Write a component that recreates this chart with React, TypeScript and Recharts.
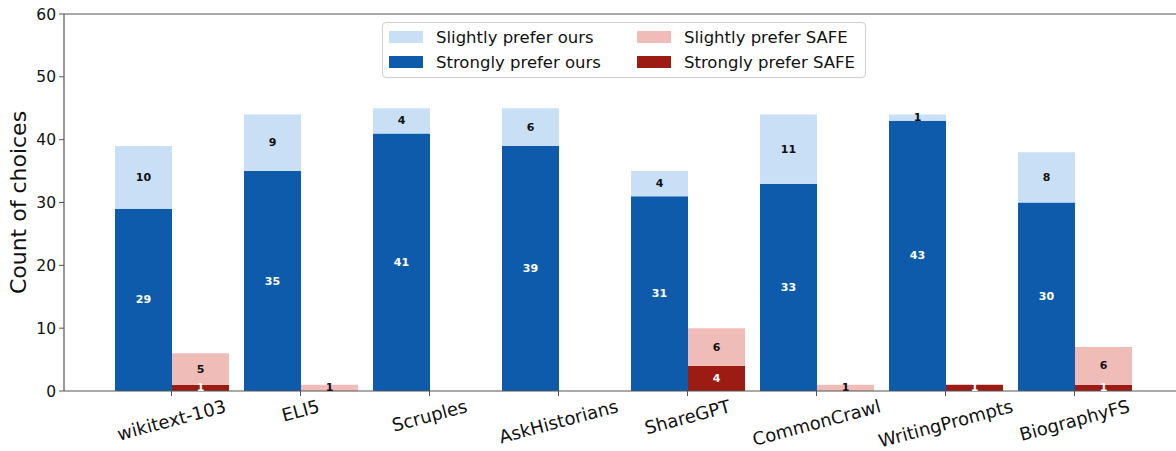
import React from "react";
import {
  BarChart,
  Bar,
  XAxis,
  YAxis,
  LabelList,
  ReferenceLine,
} from "recharts";

const CATEGORIES = [
  "wikitext-103",
  "ELI5",
  "Scruples",
  "AskHistorians",
  "ShareGPT",
  "CommonCrawl",
  "WritingPrompts",
  "BiographyFS",
];
const STRONG_OURS = [29, 35, 41, 39, 31, 33, 43, 30];
const SLIGHT_OURS = [10, 9, 4, 6, 4, 11, 1, 8];
const STRONG_SAFE = [1, 0, 0, 0, 4, 0, 1, 1];
const SLIGHT_SAFE = [5, 1, 0, 0, 6, 1, 0, 6];
const Y_TICKS = [0, 10, 20, 30, 40, 50, 60];

const COLORS = {
  slightOurs: "#c8dff6",
  strongOurs: "#0f5bab",
  slightSafe: "#f0bcb8",
  strongSafe: "#9c1c14",
};

const LEGEND = [
  { name: "Slightly prefer ours", color: COLORS.slightOurs },
  { name: "Strongly prefer ours", color: COLORS.strongOurs },
  { name: "Slightly prefer SAFE", color: COLORS.slightSafe },
  { name: "Strongly prefer SAFE", color: COLORS.strongSafe },
];

const data = CATEGORIES.map((name, i) => ({
  name,
  strongOurs: STRONG_OURS[i],
  slightOurs: SLIGHT_OURS[i],
  strongSafe: STRONG_SAFE[i],
  slightSafe: SLIGHT_SAFE[i],
}));

const FONT = "'DejaVu Sans', sans-serif";
const AXIS = "#555";
const ANGLE = 15;

let ctx: CanvasRenderingContext2D | null = null;
const measure = (s: string, size: number) => {
  if (!ctx) ctx = document.createElement("canvas").getContext("2d");
  if (!ctx) return s.length * size * 0.6;
  ctx.font = `${size}px "DejaVu Sans"`;
  return ctx.measureText(s).width;
};

// rotated tick, top of the rotated box sits just under the tick mark
const XTick = ({ x, y, payload }: any) => {
  const size = 18;
  const w = measure(payload.value, size);
  const h = size * 0.75;
  const r = (ANGLE * Math.PI) / 180;
  const H = w * Math.sin(r) + h * Math.cos(r);
  const cy = y + 1 + H / 2;
  return (
    <text
      x={x}
      y={cy}
      textAnchor="middle"
      dominantBaseline="central"
      fontSize={size}
      fontFamily={FONT}
      fill="#111"
      transform={`rotate(${-ANGLE}, ${x}, ${cy})`}
    >
      {payload.value}
    </text>
  );
};

const makeLabel = (fill: string) => (props: any) => {
  const { x, y, width, height, value } = props;
  if (!value) return null;
  return (
    <text
      x={x + width / 2}
      y={y + height / 2}
      textAnchor="middle"
      dominantBaseline="central"
      fontSize={11}
      fontWeight="bold"
      fontFamily={FONT}
      fill={fill}
    >
      {value}
    </text>
  );
};

const YLabel = (props: any) => {
  const vb = props.viewBox || { x: 0, y: 14, width: 64, height: 377 };
  const cx = vb.x + 18;
  const cy = vb.y + vb.height / 2;
  return (
    <text
      x={cx}
      y={cy}
      textAnchor="middle"
      dominantBaseline="central"
      fontSize={22}
      fontFamily={FONT}
      fill="#111"
      transform={`rotate(-90, ${cx}, ${cy})`}
    >
      Count of choices
    </text>
  );
};

function Legend() {
  return (
    <div
      style={{
        position: "absolute",
        left: 382,
        top: 22,
        width: 482,
        height: 54,
        border: "1px solid #d0d0d0",
        borderRadius: 4,
        background: "rgba(255,255,255,0.85)",
        fontFamily: FONT,
        fontSize: 16.5,
        color: "#111",
      }}
    >
      {LEGEND.map((item, i) => {
        const col = Math.floor(i / 2);
        const row = i % 2;
        return (
          <div
            key={item.name}
            style={{
              position: "absolute",
              left: 6 + col * 248,
              top: 3 + row * 25,
              height: 22,
              display: "flex",
              alignItems: "center",
              whiteSpace: "nowrap",
            }}
          >
            <div
              style={{
                width: 34,
                height: 12,
                background: item.color,
                marginRight: 13,
              }}
            />
            {item.name}
          </div>
        );
      })}
    </div>
  );
}

export default function App() {
  return (
    <div
      style={{
        position: "absolute",
        left: 0,
        top: 0,
        width: 1176,
        height: 451,
        overflow: "hidden",
        background: "#fff",
      }}
    >
      <BarChart
        width={1176}
        height={451}
        data={data}
        margin={{ top: 14, right: 0, left: 0, bottom: 0 }}
        barGap={0}
      >
        <XAxis
          dataKey="name"
          height={60}
          padding={{ left: 43, right: 37 }}
          tick={<XTick />}
          tickSize={5}
          tickMargin={2}
          axisLine={{ stroke: AXIS, strokeWidth: 1.2 }}
          tickLine={{ stroke: AXIS }}
          interval={0}
        />
        <YAxis
          width={64}
          domain={[0, 60]}
          ticks={Y_TICKS}
          tickSize={5}
          tickMargin={3}
          axisLine={{ stroke: AXIS, strokeWidth: 1.2 }}
          tickLine={{ stroke: AXIS }}
          tick={{ fontSize: 15.5, fontFamily: FONT, fill: "#111" }}
          label={<YLabel />}
        />
        <ReferenceLine y={60} stroke={AXIS} strokeWidth={1.2} />
        <Bar
          dataKey="strongOurs"
          stackId="ours"
          fill={COLORS.strongOurs}
          barSize={57}
          isAnimationActive={false}
        >
          <LabelList dataKey="strongOurs" content={makeLabel("#fff")} />
        </Bar>
        <Bar
          dataKey="slightOurs"
          stackId="ours"
          fill={COLORS.slightOurs}
          barSize={57}
          isAnimationActive={false}
        >
          <LabelList dataKey="slightOurs" content={makeLabel("#111")} />
        </Bar>
        <Bar
          dataKey="strongSafe"
          stackId="safe"
          fill={COLORS.strongSafe}
          barSize={57}
          isAnimationActive={false}
        >
          <LabelList dataKey="strongSafe" content={makeLabel("#fff")} />
        </Bar>
        <Bar
          dataKey="slightSafe"
          stackId="safe"
          fill={COLORS.slightSafe}
          barSize={57}
          isAnimationActive={false}
        >
          <LabelList dataKey="slightSafe" content={makeLabel("#111")} />
        </Bar>
      </BarChart>
      <Legend />
    </div>
  );
}
